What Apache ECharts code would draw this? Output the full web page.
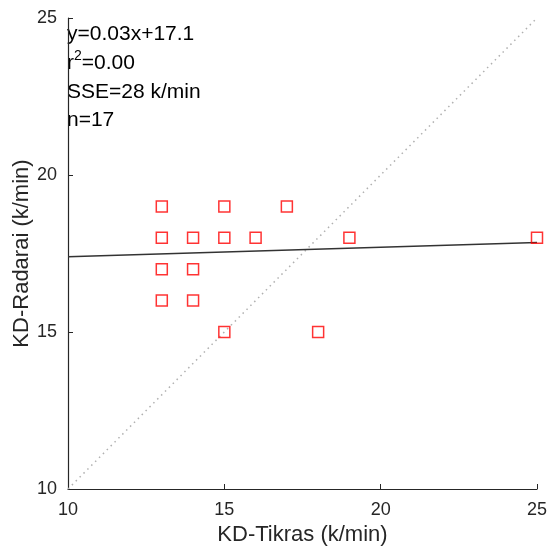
<!DOCTYPE html>
<html>
<head>
<meta charset="utf-8">
<script src="https://cdn.jsdelivr.net/npm/echarts@6/dist/echarts.min.js"></script>
<style>
  html, body { margin: 0; padding: 0; background: #fff; }
  #chart { width: 551px; height: 552px; }
</style>
</head>
<body>
<div id="chart"></div>
<script>
// Observed pairs (k/min)
const tikras  = [13, 13, 13, 13, 14, 14, 14, 15, 15, 15, 16, 17, 18, 19, 25];
const radarai = [19, 18, 17, 16, 18, 17, 16, 19, 18, 15, 18, 19, 15, 18, 18];

// Linear fit coefficients and summary
const slope = 0.03;
const intercept = 17.1;
const rSquared = '0.00';
const sse = 28;
const nCount = 17;

// Axis range and ticks
const axisMin = 10;
const axisMax = 25;
const tickStep = 5;

const points = tikras.map((x, i) => [x, radarai[i]]);
const fitLine = [axisMin, axisMax].map(x => [x, slope * x + intercept]);
const identity = [[axisMin, axisMin], [axisMax, axisMax]];

const chart = echarts.init(document.getElementById('chart'));
const font = 'Helvetica, Arial, "Liberation Sans", sans-serif';
const axisColor = '#262626';

function axisBase(name, labelMargin) {
  return {
    type: 'value',
    name: name,
    min: axisMin,
    max: axisMax,
    interval: tickStep,
    nameLocation: 'middle',
    nameGap: 35,
    nameMoveOverlap: false,
    nameTextStyle: { fontFamily: font, fontSize: 22, color: axisColor },
    axisLine: { show: true, lineStyle: { color: axisColor, width: 1.2 } },
    axisTick: { show: true, inside: true, length: 5, lineStyle: { color: axisColor } },
    axisLabel: { fontFamily: font, fontSize: 18, color: axisColor, margin: labelMargin },
    splitLine: { show: false }
  };
}

chart.setOption({
  animation: false,
  backgroundColor: '#fff',
  grid: { left: 68, right: 14, top: 18, bottom: 63, containLabel: false, outerBoundsMode: 'none' },
  xAxis: axisBase('KD-Tikras (k/min)', 12),
  yAxis: axisBase('KD-Radarai (k/min)', 11),
  graphic: [{
    type: 'text',
    left: 67,
    top: 20,
    style: {
      text: [
        'y=' + slope + 'x+' + intercept,
        '{r|r}{sup|2}{r|=' + rSquared + '}',
        'SSE=' + sse + ' k/min',
        'n=' + nCount
      ].join('\n'),
      font: '21px ' + font,
      fill: '#000',
      lineHeight: 28.7,
      rich: {
        r: { font: '21px ' + font, fill: '#000', lineHeight: 28.7 },
        sup: { font: '14px ' + font, fill: '#000', verticalAlign: 'top', lineHeight: 16 }
      }
    }
  }],
  series: [
    {
      type: 'line',
      data: identity,
      symbol: 'none',
      lineStyle: { color: '#b0b0b0', width: 1.5, type: [1.5, 4] },
      z: 1
    },
    {
      type: 'line',
      data: fitLine,
      symbol: 'none',
      lineStyle: { color: '#333', width: 1.5 },
      z: 2
    },
    {
      type: 'scatter',
      data: points,
      symbol: 'rect',
      symbolSize: 11,
      itemStyle: { color: 'rgba(0,0,0,0)', borderColor: '#ff0000', borderWidth: 1.5 },
      z: 3
    }
  ]
});
</script>
</body>
</html>
